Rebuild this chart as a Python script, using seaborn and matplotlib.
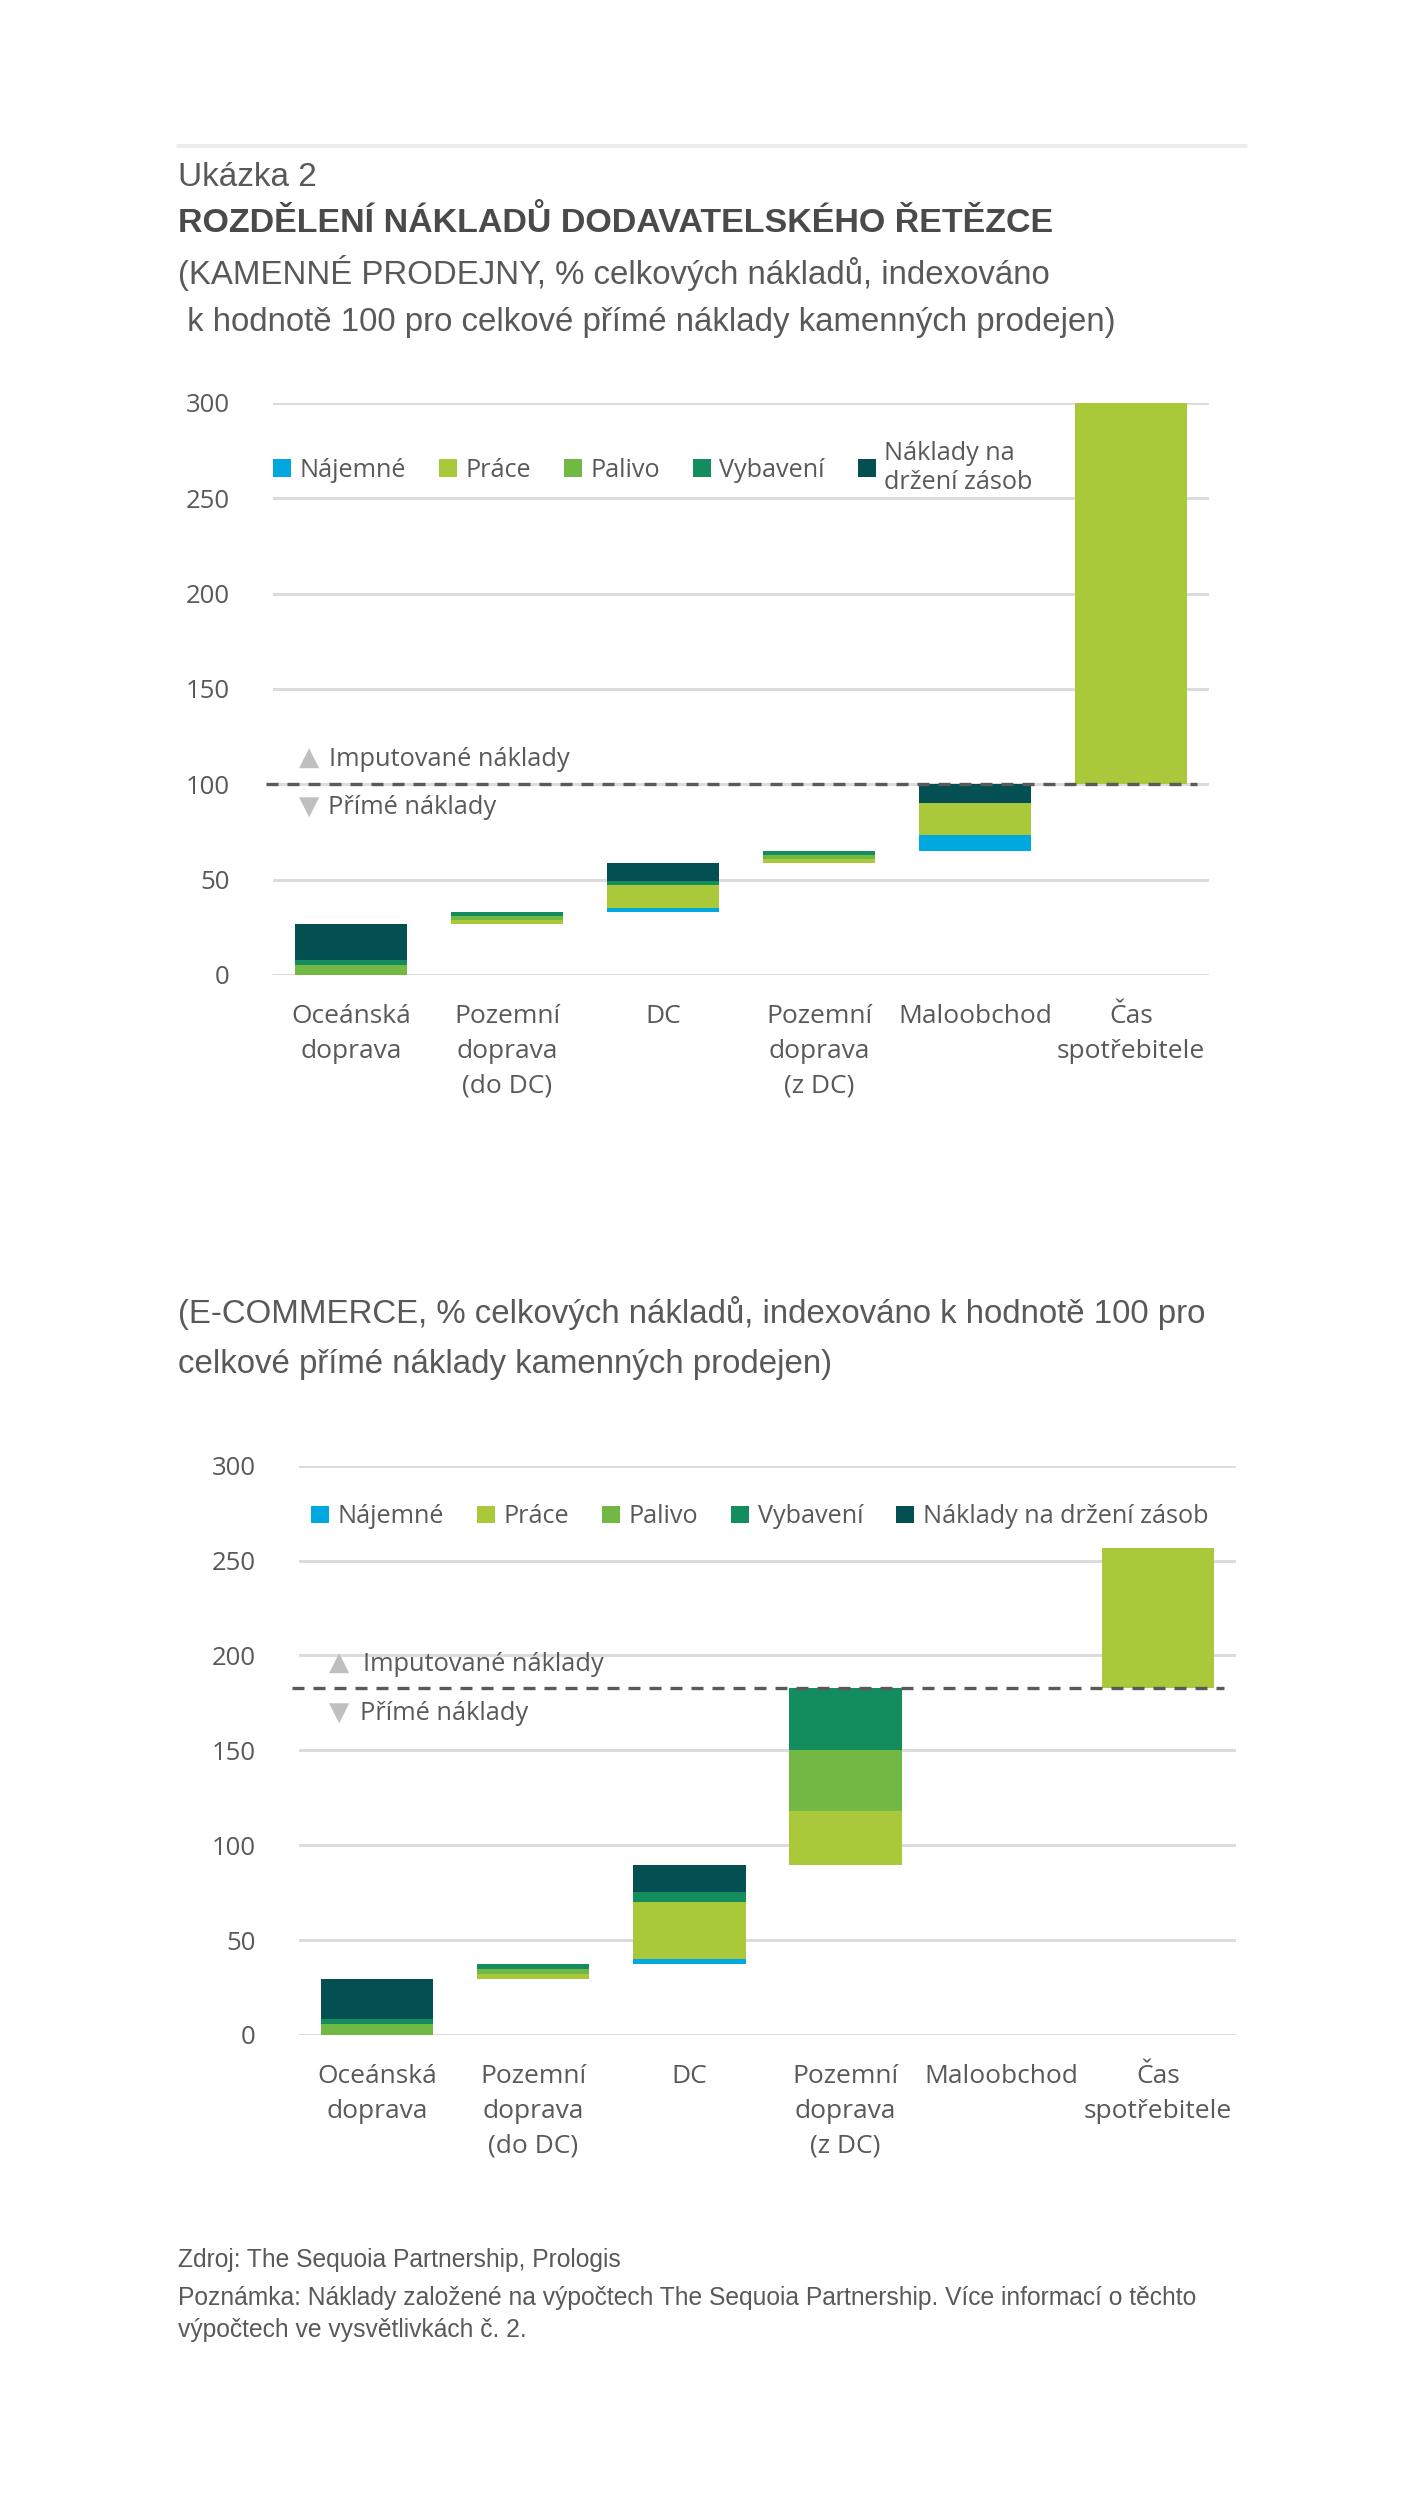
import numpy as np
import matplotlib.pyplot as plt
import seaborn as sns
from matplotlib.patches import Patch

# ==========================
# Data
# ==========================

categories = ["Oceánská\ndoprava", "Pozemní\ndoprava\n(do DC)", "DC",
              "Pozemní\ndoprava\n(z DC)", "Maloobchod", "Čas\nspotřebitele"]
series = ["Nájemné", "Práce", "Palivo", "Vybavení", "Náklady na držení zásob"]
colors = ["#00A8E0", "#A9C93A", "#72B844", "#138D5E", "#034F52"]
y_ticks = [0, 50, 100, 150, 200, 250, 300]

# kamenné prodejny
store_rent = [0, 0, 1.7, 0, 8.3, 0]
store_labor = [0, 2.1, 12.2, 1.9, 17.2, 200]
store_fuel = [5.2, 2.25, 0, 2.1, 0, 0]
store_equip = [2.7, 2.25, 2.3, 2.2, 0, 0]
store_inventory = [18.7, 0, 9.3, 0, 9.6, 0]

# e-commerce
ecom_rent = [0, 0, 2.6, 0, 0, 0]
ecom_labor = [0, 2.5, 30.0, 28.4, 0, 73.7]
ecom_fuel = [5.6, 2.6, 0, 32.5, 0, 0]
ecom_equip = [3.0, 2.6, 5.1, 32.6, 0, 0]
ecom_inventory = [21.1, 0, 14.4, 0, 0, 0]

TEXT = "#595959"
TITLE = "#4a4a4a"

sns.set_theme(style="white")
plt.rcParams['font.family'] = ['Open Sans', 'DejaVu Sans']

W, H = 1417, 2496
fig = plt.figure(figsize=(W / 100, H / 100), dpi=100)


def fx(px):
    return px / W


def fy(py):
    return 1 - py / H


def waterfall(ax, layers, legend_labels, legend_pos):
    stack = np.array(layers, dtype=float)
    totals = stack.sum(axis=0)
    start = np.concatenate([[0], np.cumsum(totals)[:-1]])
    x = np.arange(len(categories))

    bottom = start.copy()
    for vals, col in zip(stack, colors):
        ax.bar(x, vals, 0.72, bottom=bottom, color=col, linewidth=0, zorder=3)
        bottom = bottom + vals

    # boundary between direct and imputed costs = start of last bar
    level = start[-1]
    ax.hlines(level, -0.545, 5.42, colors="#5a5a5a", linewidth=2.4,
              linestyles=(0, (3.6, 2.7)), zorder=5, clip_on=False)

    ax.set_xlim(-0.5, 5.5)
    ax.set_ylim(0, 300)
    ax.set_yticks(y_ticks)
    ax.set_xticks(x)
    ax.set_xticklabels(categories, linespacing=1.5)
    ax.grid(axis='y', color='#dcdcdc', linewidth=2.2)
    ax.grid(axis='x', visible=False)
    ax.set_axisbelow(True)
    sns.despine(ax=ax, left=True, bottom=True)
    ax.tick_params(axis='y', length=0, pad=31, labelsize=18.5, labelcolor=TEXT)
    ax.tick_params(axis='x', length=0, pad=21, labelsize=19, labelcolor=TEXT)

    handles = [Patch(facecolor=c, edgecolor='none') for c in colors]
    ax.legend(handles, legend_labels, ncol=5, loc='center left',
              bbox_to_anchor=legend_pos, frameon=False, fontsize=18.2,
              labelcolor=TEXT, handlelength=0.7, handleheight=0.7,
              handletextpad=0.35, columnspacing=1.3, borderaxespad=0,
              borderpad=0)
    return level


# ==========================
# Header
# ==========================

fig.add_artist(plt.Line2D([fx(178), fx(1246)], [fy(146), fy(146)],
                          color="#ececec", linewidth=3))
head_font = ['Liberation Sans', 'DejaVu Sans']
fig.text(fx(178), fy(177), "Ukázka 2", fontsize=24, color=TEXT,
         family=head_font, va='center')
fig.text(fx(178), fy(222), "ROZDĚLENÍ NÁKLADŮ DODAVATELSKÉHO ŘETĚZCE",
         fontsize=24.5, color=TITLE, family=head_font, weight='bold', va='center')
fig.text(fx(178), fy(273), "(KAMENNÉ PRODEJNY, % celkových nákladů, indexováno",
         fontsize=23.8, color=TEXT, family=head_font, va='center')
fig.text(fx(178), fy(322), " k hodnotě 100 pro celkové přímé náklady kamenných prodejen)",
         fontsize=23.8, color=TEXT, family=head_font, va='center')

# ==========================
# Chart 1: kamenné prodejny
# ==========================

ax1 = fig.add_axes([fx(273), fy(975), fx(1209 - 273), (975 - 403) / H])
lvl1 = waterfall(ax1,
                 [store_rent, store_labor, store_fuel, store_equip, store_inventory],
                 series[:4] + ["Náklady na\ndržení zásob"], (0, 0.887))

ax1.text(-0.272, lvl1 + 13.8, "▲", color="#bfbfbf", fontsize=19,
         family=['DejaVu Sans'], ha='center', va='center')
ax1.text(-0.14, lvl1 + 12.8, "Imputované náklady", color=TEXT, fontsize=18.3,
         ha='left', va='center')
ax1.text(-0.272, lvl1 - 11.9, "▼", color="#bfbfbf", fontsize=19,
         family=['DejaVu Sans'], ha='center', va='center')
ax1.text(-0.147, lvl1 - 12.4, "Přímé náklady", color=TEXT, fontsize=18.3,
         ha='left', va='center')

# ==========================
# Chart 2: e-commerce
# ==========================

fig.text(fx(178), fy(1313), "(E-COMMERCE, % celkových nákladů, indexováno k hodnotě 100 pro",
         fontsize=23.8, color=TEXT, family=head_font, va='center')
fig.text(fx(178), fy(1365), "celkové přímé náklady kamenných prodejen)",
         fontsize=23.8, color=TEXT, family=head_font, va='center')

ax2 = fig.add_axes([fx(299), fy(2035), fx(1236 - 299), (2035 - 1465.7) / H])
lvl2 = waterfall(ax2,
                 [ecom_rent, ecom_labor, ecom_fuel, ecom_equip, ecom_inventory],
                 series, (0.013, 0.91))

ax2.text(-0.242, lvl2 + 13.0, "▲", color="#bfbfbf", fontsize=19,
         family=['DejaVu Sans'], ha='center', va='center')
ax2.text(-0.088, lvl2 + 12.0, "Imputované náklady", color=TEXT, fontsize=18.3,
         ha='left', va='center')
ax2.text(-0.242, lvl2 - 13.0, "▼", color="#bfbfbf", fontsize=19,
         family=['DejaVu Sans'], ha='center', va='center')
ax2.text(-0.108, lvl2 - 13.4, "Přímé náklady", color=TEXT, fontsize=18.3,
         ha='left', va='center')

# ==========================
# Footer
# ==========================

fig.text(fx(178), fy(2260), "Zdroj: The Sequoia Partnership, Prologis",
         fontsize=17.7, color=TEXT, family=head_font, va='center')
fig.text(fx(178), fy(2298),
         "Poznámka: Náklady založené na výpočtech The Sequoia Partnership. "
         "Více informací o těchto",
         fontsize=17.7, color=TEXT, family=head_font, va='center')
fig.text(fx(178), fy(2330), "výpočtech ve vysvětlivkách č. 2.",
         fontsize=17.7, color=TEXT, family=head_font, va='center')

fig.savefig("out.png", dpi=100, facecolor="white")
plt.close(fig)
